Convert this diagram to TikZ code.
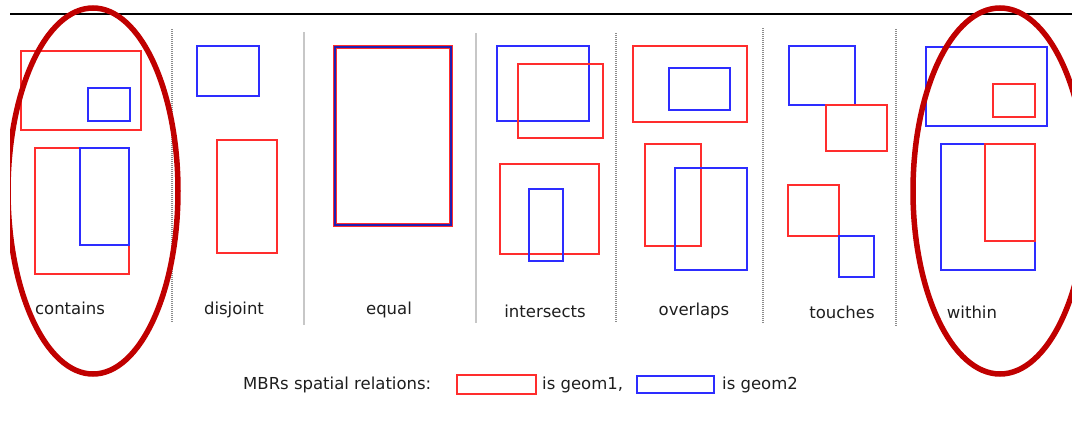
\documentclass[tikz,border=0pt]{standalone}
\usepackage{fontspec}
\setmainfont{DejaVu Sans}
\definecolor{geomred}{RGB}{255,45,45}
\definecolor{geomblue}{RGB}{45,45,255}
\definecolor{markred}{RGB}{192,0,0}
\definecolor{labelgray}{RGB}{30,30,30}
\begin{document}
\begin{tikzpicture}[x=1pt,y=-1pt,
  gone/.style={draw=geomred, line width=1.2pt},
  gtwo/.style={draw=geomblue, line width=1.2pt},
  sepdot/.style={draw=black!45, line width=1.1pt, dash pattern=on 1pt off 1pt},
  sepsolid/.style={draw=black!22, line width=1.2pt},
  lbl/.style={font=\fontsize{16.5}{20}\selectfont, text=labelgray, anchor=base, inner sep=0pt},
  legtxt/.style={font=\fontsize{16.5}{20}\selectfont, text=labelgray, anchor=base west, inner sep=0pt},
  ring/.style={draw=markred, line width=5.5pt}]
\useasboundingbox (0,0) rectangle (1072,429);

% header rule
\draw[line width=2.2pt] (10,14) -- (1072,14);

% panel separators
\draw[sepdot]   (172,29) -- (172,322);
\draw[sepsolid] (304,32) -- (304,325);
\draw[sepsolid] (476,33) -- (476,323);
\draw[sepdot]   (616,33) -- (616,323);
\draw[sepdot]   (763,28) -- (763,323);
\draw[sepdot]   (896,29) -- (896,326);

% contains
\draw[gone] (21,51) rectangle (141,130);
\draw[gtwo] (88,88) rectangle (130,121);
\draw[gone] (35,148) rectangle (129,274);
\draw[gtwo] (80,148) rectangle (129,245);

% disjoint
\draw[gtwo] (197,46) rectangle (259,96);
\draw[gone] (217,140) rectangle (277,253);

% equal: both boxes coincide, red border on either side of the blue one
\draw[draw=geomred, line width=1.3pt] (333.5,45.5) rectangle (452.5,226.5);
\draw[draw=geomred, line width=1.3pt] (336.6,48.6) rectangle (449.4,223.4);
\draw[draw=geomblue!70!black, line width=1.9pt] (335,47) rectangle (451,225);

% intersects
\draw[gtwo] (497,46) rectangle (589,121);
\draw[gone] (518,64) rectangle (603,138);
\draw[gone] (500,164) rectangle (599,254);
\draw[gtwo] (529,189) rectangle (563,261);

% overlaps
\draw[gone] (633,46) rectangle (747,122);
\draw[gtwo] (669,68) rectangle (730,110);
\draw[gone] (645,144) rectangle (701,246);
\draw[gtwo] (675,168) rectangle (747,270);

% touches
\draw[gtwo] (789,46) rectangle (855,105);
\draw[gone] (826,105) rectangle (887,151);
\draw[gone] (788,185) rectangle (839,236);
\draw[gtwo] (839,236) rectangle (874,277);

% within
\draw[gtwo] (926,47) rectangle (1047,126);
\draw[gone] (993,84) rectangle (1035,117);
\draw[gtwo] (941,144) rectangle (1035,270);
\draw[gone] (985,144) rectangle (1035,241);

% relation names
\node[lbl] (lcontains)   at (70,314)  {contains};
\node[lbl] (ldisjoint)   at (234,314) {disjoint};
\node[lbl] (lequal)      at (389,314) {equal};
\node[lbl] (lintersects) at (545,317) {intersects};
\node[lbl] (loverlaps)   at (694,315) {overlaps};
\node[lbl] (ltouches)    at (842,318) {touches};
\node[lbl] (lwithin)     at (972,318) {within};

% legend
\node[legtxt] (legtitle) at (243,389) {MBRs spatial relations:};
\node[draw=geomred, line width=1.2pt, minimum width=79pt, minimum height=19pt, inner sep=0pt] (legone) at (496.5,384.5) {};
\node[legtxt] (legonetxt) at (542,389) {is geom1,};
\node[draw=geomblue, line width=1.2pt, minimum width=77pt, minimum height=17pt, inner sep=0pt] (legtwo) at (675.5,384.5) {};
\node[legtxt] (legtwotxt) at (722,389) {is geom2};

% highlight rings
\begin{scope}
  \clip (10,0) rectangle (1072,429);
  \draw[ring] (93,191) ellipse [x radius=85pt, y radius=183pt];
  \draw[ring] (1000,191) ellipse [x radius=87pt, y radius=183pt];
\end{scope}
\end{tikzpicture}
\end{document}
